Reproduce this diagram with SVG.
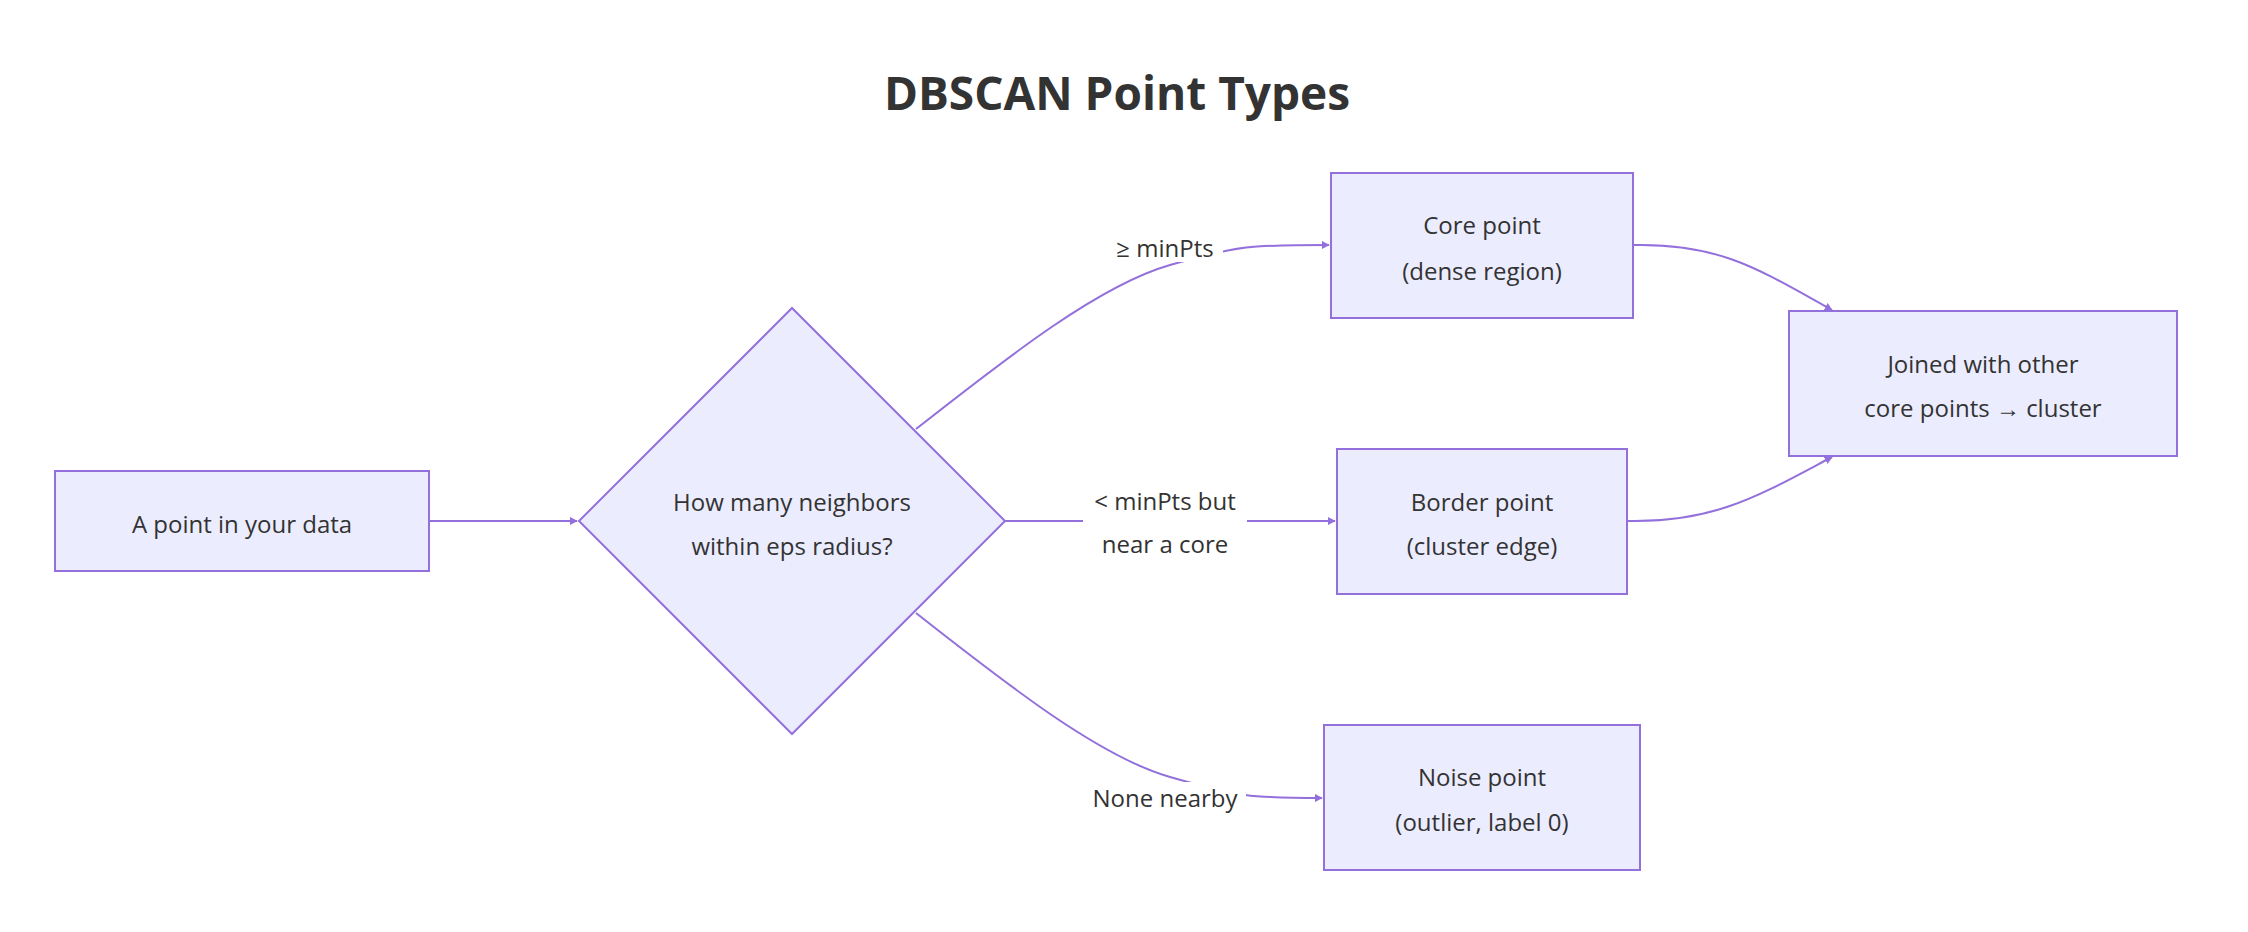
<svg xmlns="http://www.w3.org/2000/svg" width="2248" height="932" viewBox="0 0 2248 932">
<style>
.n{fill:#ECECFF;stroke:#9370DB;stroke-width:2}
.t{font-family:"Open Sans","Liberation Sans",sans-serif;font-size:24px;fill:#333;text-anchor:middle;dominant-baseline:central}
.e{fill:none;stroke:#9370DB;stroke-width:2}
.lb{fill:#fff}
</style>
<defs><marker id="a" viewBox="0 0 10 10" refX="9" refY="5" markerWidth="8" markerHeight="8" markerUnits="userSpaceOnUse" orient="auto"><path d="M0,0L10,5L0,10z" fill="#9370DB"/></marker></defs>
<rect width="2248" height="932" fill="#fff"/>
<text x="1117" y="110" style="font-family:'Open Sans','Liberation Sans',sans-serif;font-size:46px;font-weight:bold;fill:#333;text-anchor:middle">DBSCAN Point Types</text>
<g id="edges">
<path class="e" d="M429,521L577,521" marker-end="url(#a)"/>
<path class="e" d="M916,429C1010,355 1100,285 1170,265S1250,245 1329,245" marker-end="url(#a)"/>
<path class="e" d="M1005,521L1335,521" marker-end="url(#a)"/>
<path class="e" d="M916,613C1010,687 1100,757 1170,777S1250,798 1322,798" marker-end="url(#a)"/>
<path class="e" d="M1633,245C1720,243 1760,270 1832,310" marker-end="url(#a)"/>
<path class="e" d="M1627,521C1715,523 1760,495 1832,457" marker-end="url(#a)"/>
<rect class="lb" x="1107" y="232" width="116" height="30"/>
<text class="t" x="1165" y="247">≥ minPts</text>
<rect class="lb" x="1083" y="484" width="164" height="76"/>
<text class="t" x="1165" y="500">&lt; minPts but</text>
<text class="t" x="1165" y="543">near a core</text>
<rect class="lb" x="1084" y="782" width="162" height="30"/>
<text class="t" x="1165" y="797">None nearby</text>
</g>
<g id="A"><rect class="n" x="55" y="471" width="374" height="100"/><text class="t" x="242" y="523">A point in your data</text></g>
<g id="B"><path class="n" d="M792,308L1005,521L792,734L579,521Z"/><text class="t" x="792" y="501">How many neighbors</text><text class="t" x="792" y="545">within eps radius?</text></g>
<g id="C"><rect class="n" x="1331" y="173" width="302" height="145"/><text class="t" x="1482" y="224">Core point</text><text class="t" x="1482" y="270">(dense region)</text></g>
<g id="D"><rect class="n" x="1337" y="449" width="290" height="145"/><text class="t" x="1482" y="501">Border point</text><text class="t" x="1482" y="545">(cluster edge)</text></g>
<g id="E"><rect class="n" x="1324" y="725" width="316" height="145"/><text class="t" x="1482" y="776">Noise point</text><text class="t" x="1482" y="821">(outlier, label 0)</text></g>
<g id="F"><rect class="n" x="1789" y="311" width="388" height="145"/><text class="t" x="1983" y="363">Joined with other</text><text class="t" x="1983" y="407">core points → cluster</text></g>
</svg>
